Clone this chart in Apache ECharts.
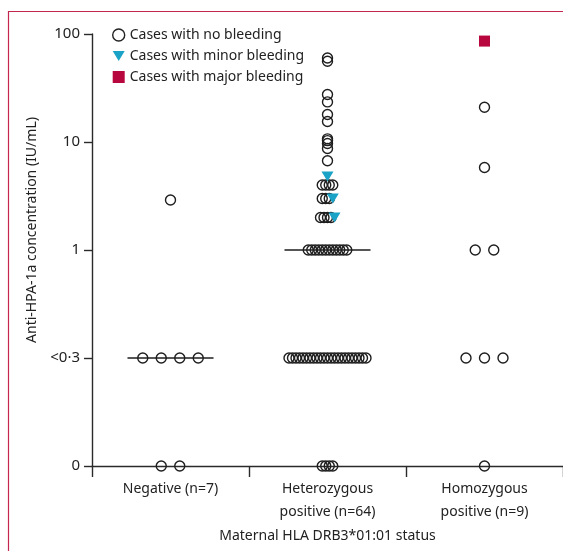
<!DOCTYPE html>
<html>
<head>
<meta charset="utf-8">
<script src="https://cdn.jsdelivr.net/npm/echarts@6/dist/echarts.min.js"></script>
<style>
  html, body { margin: 0; padding: 0; background: #fff; }
  #chart { width: 563px; height: 551px; }
</style>
</head>
<body>
<div id="chart"></div>
<script>
// ---------- DATA ----------
const categories = ['Negative (n=7)', 'Heterozygous\npositive (n=64)', 'Homozygous\npositive (n=9)'];
const yTickLabels = ['0', '<0·3', '1', '10', '100'];
const seriesNames = ['Cases with no bleeding', 'Cases with minor bleeding', 'Cases with major bleeding'];

// Anti-HPA-1a concentration, IU/mL (0 = undetectable, 0.3 = "<0·3")
const negativeNoBleeding = [2.9, 0.3, 0.3, 0.3, 0.3, 0, 0];
const negativeMinor = [];
const negativeMajor = [];

const heteroNoBleeding = [
  60, 56, 27.5, 23.5, 18, 15.5, 10.7, 10.3, 9.7, 8.7, 6.7,
  4, 4, 4, 4,
  3, 3, 3,
  2, 2, 2, 2,
  1, 1, 1, 1, 1, 1, 1, 1, 1, 1, 1, 1,
  0.3, 0.3, 0.3, 0.3, 0.3, 0.3, 0.3, 0.3, 0.3, 0.3, 0.3, 0.3,
  0.3, 0.3, 0.3, 0.3, 0.3, 0.3, 0.3, 0.3, 0.3, 0.3, 0.3,
  0, 0, 0, 0
];
const heteroMinor = [4.8, 3, 2];
const heteroMajor = [];

const homoNoBleeding = [21, 5.8, 1, 1, 0.3, 0.3, 0.3, 0];
const homoMinor = [];
const homoMajor = [86];

const showMedian = [true, true, false];

// ---------- LAYOUT / HELPERS ----------
const groups = [
  [negativeNoBleeding, negativeMinor, negativeMajor],
  [heteroNoBleeding, heteroMinor, heteroMajor],
  [homoNoBleeding, homoMinor, homoMajor]
];
const catWidthPx = 157;
const spacingPx = [18.5, 3.5, 18.5];   // horizontal spread of tied points
const medianHalfWidth = 0.274;          // in category units

// pseudo-log scale: 0 -> 0, <0.3 -> 1, otherwise 2 + log10(v)
function toPos(v) {
  if (v === 0) return 0;
  if (v <= 0.3) return 1;
  return 2 + Math.log10(v);
}

const seriesPoints = [[], [], []];
const medianSeries = [];
groups.forEach((g, ci) => {
  const center = ci + 0.5;
  const rows = new Map();
  g.forEach((arr, si) => {
    arr.forEach(v => {
      const key = toPos(v).toFixed(4);
      if (!rows.has(key)) rows.set(key, []);
      rows.get(key).push({ v: v, si: si });
    });
  });
  rows.forEach(list => {
    const n = list.length;
    const step = spacingPx[ci] / catWidthPx;
    list.forEach((p, i) => {
      const x = center + (i - (n - 1) / 2) * step;
      seriesPoints[p.si].push([x, toPos(p.v)]);
    });
  });
  if (showMedian[ci]) {
    const all = [].concat(...g).slice().sort((a, b) => a - b);
    const m = all.length;
    const med = m % 2 ? all[(m - 1) / 2] : (all[m / 2 - 1] + all[m / 2]) / 2;
    const mp = toPos(med);
    medianSeries.push({
      type: 'line', xAxisIndex: 1, yAxisIndex: 0,
      data: [[center - medianHalfWidth, mp], [center + medianHalfWidth, mp]],
      symbol: 'none', silent: true, z: 1,
      lineStyle: { color: '#1e1e1e', width: 1.4 }
    });
  }
});

const triDown = 'path://M0,0L12,0L6,10Z';
const FONT = 'Noto Sans';

const chart = echarts.init(document.getElementById('chart'), null, { renderer: 'canvas' });
chart.setOption({
  animation: false,
  backgroundColor: '#fff',
  textStyle: { fontFamily: FONT },
  grid: { left: 92, right: 0, top: 34, bottom: 85, containLabel: false },
  graphic: [{
    type: 'polyline', z: -10, silent: true,
    shape: { points: [[8.5, 560], [8.5, 11.5], [570, 11.5]] },
    style: { fill: 'none', stroke: '#c3264f', lineWidth: 1.2 }
  }],
  legend: {
    orient: 'vertical', left: 107, top: 23,
    itemWidth: 12, itemHeight: 12, itemGap: 7,
    textStyle: { fontSize: 14, color: '#222', fontFamily: FONT },
    data: [
      { name: seriesNames[0], icon: 'circle', itemStyle: { color: 'rgba(0,0,0,0)', borderColor: '#222', borderWidth: 1.4 } },
      { name: seriesNames[1], icon: triDown, itemStyle: { color: '#1aa3c6', borderWidth: 0 } },
      { name: seriesNames[2], icon: 'rect', itemStyle: { color: '#b8063f', borderWidth: 0 } }
    ]
  },
  xAxis: [{
    type: 'category', data: categories, boundaryGap: true, gridIndex: 0,
    axisLine: { lineStyle: { color: '#2a2a2a', width: 1.4 } },
    axisTick: { show: true, interval: 0, length: 11, lineStyle: { color: '#2a2a2a', width: 1.4 } },
    axisLabel: { interval: 0, fontSize: 14, color: '#222', lineHeight: 23, margin: 12, fontFamily: FONT },
    name: 'Maternal HLA DRB3*01:01 status', nameLocation: 'middle', nameGap: 62,
    nameTextStyle: { fontSize: 14, color: '#222', fontFamily: FONT },
    splitLine: { show: false }
  }, {
    type: 'value', min: 0, max: 3, show: false, gridIndex: 0
  }],
  yAxis: [{
    type: 'value', min: 0, max: 4, interval: 1,
    axisLine: { show: true, lineStyle: { color: '#2a2a2a', width: 1.4 } },
    axisTick: { show: true, length: 8, lineStyle: { color: '#2a2a2a', width: 1.4 } },
    axisLabel: { fontSize: 15, color: '#222', margin: 12, fontFamily: FONT,
      formatter: v => yTickLabels[Math.round(v)] },
    splitLine: { show: false },
    name: 'Anti-HPA-1a concentration (IU/mL)', nameLocation: 'middle', nameGap: 52,
    nameTextStyle: { fontSize: 14, color: '#222', fontFamily: FONT, padding: [0, 0, 0, 40] }
  }],
  series: medianSeries.concat([
    {
      name: seriesNames[0], type: 'scatter', xAxisIndex: 1, yAxisIndex: 0,
      data: seriesPoints[0], symbol: 'circle', symbolSize: 10, z: 3,
      itemStyle: { color: 'rgba(0,0,0,0)', borderColor: '#1e1e1e', borderWidth: 1.4, opacity: 1 }
    },
    {
      name: seriesNames[1], type: 'scatter', xAxisIndex: 1, yAxisIndex: 0,
      data: seriesPoints[1], symbol: triDown, symbolSize: [12, 10], z: 4,
      itemStyle: { color: '#1aa3c6', opacity: 1 }
    },
    {
      name: seriesNames[2], type: 'scatter', xAxisIndex: 1, yAxisIndex: 0,
      data: seriesPoints[2], symbol: 'rect', symbolSize: 11, z: 4,
      itemStyle: { color: '#b8063f', opacity: 1 }
    }
  ])
});
</script>
</body>
</html>
